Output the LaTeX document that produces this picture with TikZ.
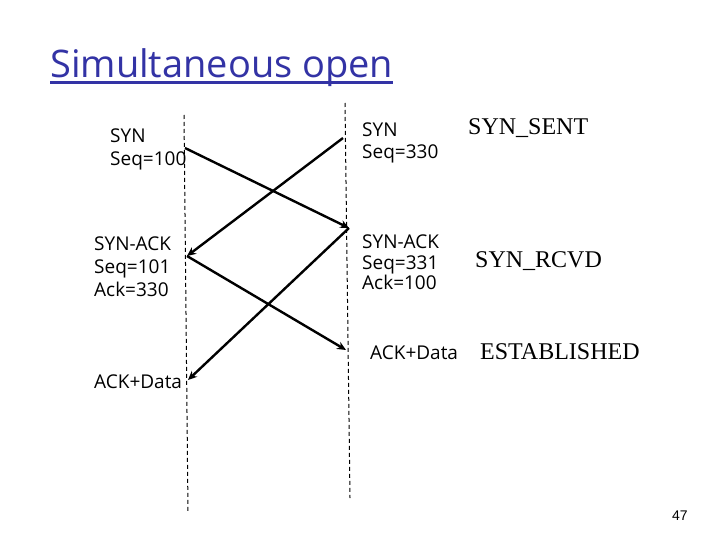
\documentclass[tikz,border=0pt]{standalone}
\usepackage{fontspec}
\setmainfont{Liberation Serif}
\newfontfamily\comicf{Open Sans}
\newfontfamily\arialf{Liberation Sans}
\usetikzlibrary{arrows.meta}
\definecolor{titleblue}{RGB}{51,51,165}
\tikzset{
  lbl/.style={anchor=base west, inner sep=0pt, font=\comicf\fontsize{19}{22}\selectfont},
  state/.style={anchor=base west, inner sep=0pt, font=\fontsize{24}{28}\selectfont},
  lifeline/.style={draw=black, line width=1pt, dash pattern=on 4pt off 3pt},
  msg/.style={draw=black, line width=2.4pt, -{Stealth[length=9pt,width=8pt]}}
}
\begin{document}
\begin{tikzpicture}[x=1pt,y=-1pt]
\useasboundingbox[fill=white] (0,0) rectangle (720,540);
% title
\node[anchor=base west, inner sep=0pt, text=titleblue, font=\comicf\fontsize{38}{44}\selectfont] (title) at (50,78) {Simultaneous open};
\draw[titleblue, line width=3pt] (title.base west) ++(0,5) coordinate (ul1) -- (title.base east |- ul1) coordinate (ul2);
% lifelines
\coordinate (Ltop) at (184,115);
\coordinate (Lbot) at (188,512);
\coordinate (Rtop) at (345,103);
\coordinate (Rbot) at (350,498);
\draw[lifeline] (Ltop) -- (Lbot);
\draw[lifeline] (Rtop) -- (Rbot);
% message end points
\coordinate (l1) at (185,148);
\coordinate (r1) at (343,138);
\coordinate (r2) at (349,228);
\coordinate (l2) at (187,256);
\coordinate (r3) at (346,350);
\coordinate (l3) at (188,380);
\draw[msg] (l1) -- (r2);
\draw[msg] (r1) -- (l2);
\draw[msg] (l2) -- (r3);
\draw[msg] (r2) -- (l3);
% left labels
\node[lbl] (ls1) at (110,143) {SYN};
\node[lbl] (ls2) at (110,166) {Seq=100};
\node[lbl] (la1) at (94,250) {SYN-ACK};
\node[lbl] (la2) at (94,273) {Seq=101};
\node[lbl] (la3) at (94,296) {Ack=330};
\node[lbl] (ld1) at (94,388) {ACK+Data};
% right labels
\node[lbl] (rs1) at (362,137) {SYN};
\node[lbl] (rs2) at (362,159) {Seq=330};
\node[lbl] (ra1) at (362,248) {SYN-ACK};
\node[lbl] (ra2) at (362,269) {Seq=331};
\node[lbl] (ra3) at (362,289) {Ack=100};
\node[lbl] (rd1) at (370,359) {ACK+Data};
% states
\node[state] (st1) at (468,135) {SYN\_SENT};
\node[state] (st2) at (475,267) {SYN\_RCVD};
\node[state] (st3) at (480,359) {ESTABLISHED};
% page number
\node[anchor=base west, inner sep=0pt, font=\arialf\fontsize{14}{16}\selectfont] (pg) at (672,520) {47};
\end{tikzpicture}
\end{document}
